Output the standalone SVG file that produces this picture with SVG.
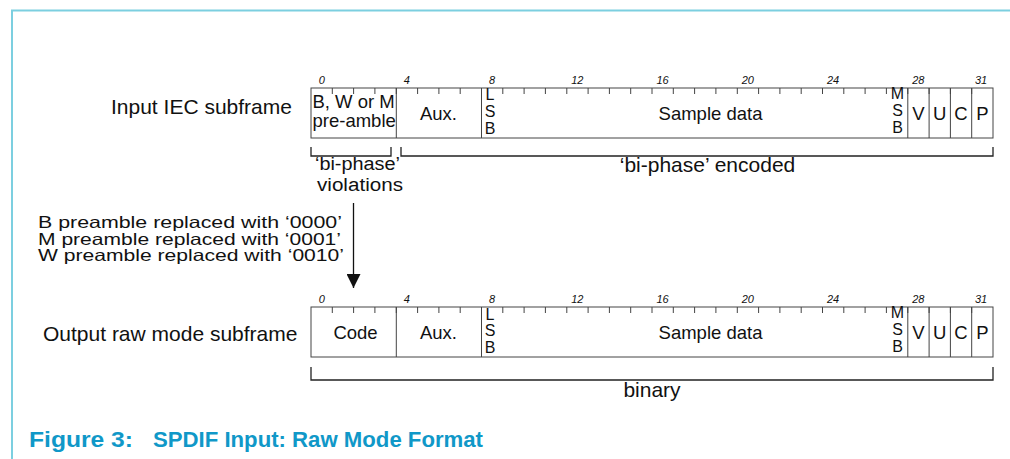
<svg xmlns="http://www.w3.org/2000/svg" width="1010" height="459" viewBox="0 0 1010 459">
<defs>
<style>
text{font-family:"Liberation Sans",Arial,Helvetica,sans-serif;fill:#111}
.lab{font-size:21px}
.bx{font-size:18.5px}
.bp{font-size:18px}
.pre{font-size:16.5px}
.st{font-size:16px}
.num{font-size:11px;font-style:italic}
.box{fill:#fff;stroke:#444;stroke-width:1}
.ln{stroke:#444;stroke-width:1;fill:none}
.br{stroke:#222;stroke-width:1.3;fill:none}
.frame{stroke:#7ccfe0;stroke-width:2;fill:none}
.cap{font-size:22px;font-weight:bold;fill:#1098c8}
</style>
<marker id="ah" markerWidth="14" markerHeight="14" refX="14" refY="7" orient="auto" markerUnits="userSpaceOnUse">
<path d="M0,0 L14,7 L0,14 Z" fill="#111"/>
</marker>
<g id="ticks">
<path class="ln" d="M332.3,0v6M353.6,0v6M374.9,0v6M396.3,0v6M417.6,0v6M438.9,0v6M460.2,0v6M481.5,0v6M502.8,0v6M524.1,0v6M545.4,0v6M566.8,0v6M588.1,0v6M609.4,0v6M630.7,0v6M652,0v6M673.3,0v6M694.6,0v6M715.9,0v6M737.3,0v6M758.6,0v6M779.9,0v6M801.2,0v6M822.5,0v6M843.8,0v6M865.1,0v6M886.4,0v6M907.8,0v6M929.1,0v6M950.4,0v6M971.7,0v6"/>
<g class="num" text-anchor="middle">
<text x="321.7" y="-4.5">0</text><text x="406.9" y="-4.5">4</text><text x="492" y="-4.5">8</text><text x="577.3" y="-4.5">12</text><text x="662.5" y="-4.5">16</text><text x="747.8" y="-4.5">20</text><text x="833" y="-4.5">24</text><text x="918.3" y="-4.5">28</text><text x="981" y="-4.5">31</text>
</g>
</g>
</defs>

<g id="frame">
<path class="frame" d="M12,459V10.5H1010"/>
</g>

<g id="input-label"><text class="lab" x="111" y="114">Input IEC subframe</text></g>

<g id="input-subframe">
<rect class="box" x="311" y="88" width="682" height="50"/>
<use href="#ticks" transform="translate(0,88)"/>
<path class="ln" d="M396.3,88V138M481.5,88V138M907.8,88V138M929.1,88V138M950.4,88V138M971.7,88V138"/>
<text class="bx" x="312.5" y="108">B, W or M</text>
<text class="bx" x="312.5" y="127">pre-amble</text>
<text class="bx" x="438.5" y="119.5" text-anchor="middle">Aux.</text>
<g class="st" text-anchor="middle"><text x="490" y="100">L</text><text x="490" y="117">S</text><text x="490" y="134">B</text>
<text x="897.5" y="99">M</text><text x="897.5" y="116">S</text><text x="897.5" y="133">B</text></g>
<text class="bx" x="710.5" y="119.5" text-anchor="middle">Sample data</text>
<g class="bx" text-anchor="middle"><text x="918.4" y="119.5">V</text><text x="939.7" y="119.5">U</text><text x="961" y="119.5">C</text><text x="982.3" y="119.5">P</text></g>
</g>

<g id="biphase-violations" class="bp">
<text x="315" y="170" textLength="85" lengthAdjust="spacingAndGlyphs">‘bi-phase’</text>
<text x="317" y="190.5" textLength="86" lengthAdjust="spacingAndGlyphs">violations</text>
</g>
<g id="biphase-encoded"><text class="lab" x="707.5" y="172" text-anchor="middle">‘bi-phase’ encoded</text></g>

<g id="replace-note" class="pre">
<text x="38" y="228" textLength="304" lengthAdjust="spacingAndGlyphs">B preamble replaced with ‘0000’</text>
<text x="38" y="244.5" textLength="303" lengthAdjust="spacingAndGlyphs">M preamble replaced with ‘0001’</text>
<text x="38" y="261" textLength="306" lengthAdjust="spacingAndGlyphs">W preamble replaced with ‘0010’</text>
</g>

<g id="output-label"><text class="lab" x="43" y="341">Output raw mode subframe</text></g>

<g id="output-subframe">
<rect class="box" x="311" y="307" width="682" height="50"/>
<use href="#ticks" transform="translate(0,307)"/>
<path class="ln" d="M396.3,307V357M481.5,307V357M907.8,307V357M929.1,307V357M950.4,307V357M971.7,307V357"/>
<text class="bx" x="355.5" y="338.5" text-anchor="middle">Code</text>
<text class="bx" x="438.5" y="338.5" text-anchor="middle">Aux.</text>
<g class="st" text-anchor="middle"><text x="490" y="319.5">L</text><text x="490" y="336">S</text><text x="490" y="353">B</text>
<text x="897.5" y="318">M</text><text x="897.5" y="335">S</text><text x="897.5" y="352">B</text></g>
<text class="bx" x="710.5" y="338.5" text-anchor="middle">Sample data</text>
<g class="bx" text-anchor="middle"><text x="918.4" y="338.5">V</text><text x="939.7" y="338.5">U</text><text x="961" y="338.5">C</text><text x="982.3" y="338.5">P</text></g>
</g>

<g id="binary-label"><text class="lab" x="652" y="397" text-anchor="middle">binary</text></g>

<g id="connectors">
<path class="br" d="M311,147V156H391V147"/>
<path class="br" d="M401,147V156H993V147"/>
<path class="br" d="M311,367V380H993V367"/>
<line x1="353.5" y1="203" x2="353.5" y2="288" stroke="#111" stroke-width="1.3" marker-end="url(#ah)"/>
</g>

<g id="caption">
<text class="cap" x="29" y="447" textLength="104" lengthAdjust="spacingAndGlyphs">Figure 3:</text>
<text class="cap" x="153" y="447" textLength="330" lengthAdjust="spacingAndGlyphs">SPDIF Input: Raw Mode Format</text>
</g>
</svg>
